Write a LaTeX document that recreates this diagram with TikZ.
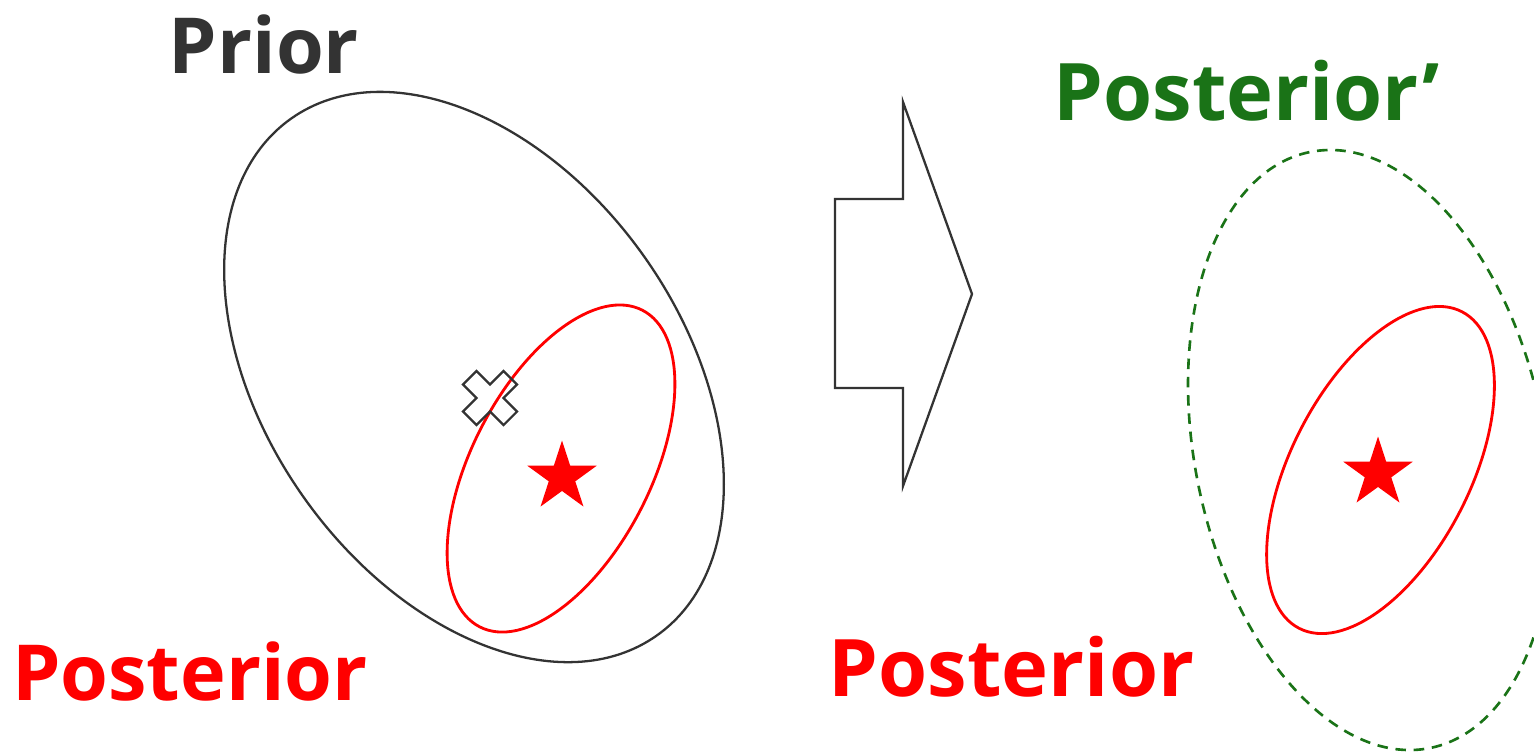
\documentclass[tikz,border=0pt]{standalone}
\usepackage{fontspec}
\setmainfont{Open Sans}
\usepackage{xcolor}
\usetikzlibrary{shapes.geometric, positioning}

\definecolor{priorgray}{HTML}{333333}
\definecolor{postgreen}{HTML}{1A7317}
\definecolor{postred}{HTML}{FF0000}

\begin{document}
\begin{tikzpicture}[
    title/.style={font=\bfseries\fontsize{22}{26}\selectfont, inner sep=0pt, anchor=base},
    bigtitle/.style={title, font=\bfseries\fontsize{22.6}{26}\selectfont},
    prior/.style={draw=priorgray, line width=0.65pt},
    post/.style={draw=postred, line width=0.8pt},
    postnew/.style={draw=postgreen, line width=0.75pt, dash pattern=on 3pt off 2.2pt},
    truth/.style={star, star points=5, star point ratio=2.618, fill=postred, inner sep=0pt, minimum size=0.73cm}
]
\useasboundingbox (0,0) rectangle (15.34,7.52);
\clip (0,0) rectangle (15.34,7.52);

% LEFT: PRIOR AND POSTERIOR
\node[title, text=priorgray] (prior) at (2.64,6.79) {Prior};
\draw[prior] (4.74,3.75) ellipse [x radius=2.085cm, y radius=3.166cm, rotate=35.3];
\draw[post] (5.61,2.835) ellipse [x radius=1.78cm, y radius=0.896cm, rotate=62.8];
\node[truth] (starL) at (5.62,2.75) {};
\node[title, text=postred] (postL) at (1.90,0.513) {Posterior};

% prior mean
\draw[prior, line join=miter, shift={(4.90,3.54)}, rotate=45]
    (0.095,0.095) -- (0.287,0.095) -- (0.287,-0.095) -- (0.095,-0.095)
    -- (0.095,-0.287) -- (-0.095,-0.287) -- (-0.095,-0.095) -- (-0.287,-0.095)
    -- (-0.287,0.095) -- (-0.095,0.095) -- (-0.095,0.287) -- (0.095,0.287) -- cycle;

% BLOCK ARROW
\draw[prior, line join=miter] (8.35,5.53) -- (9.03,5.53) -- (9.03,6.50) -- (9.72,4.58)
    -- (9.03,2.66) -- (9.03,3.64) -- (8.35,3.64) -- cycle;

% RIGHT: NEW POSTERIOR
\node[bigtitle, text=postgreen] (postN) at (12.465,6.32) {Posterior’};
\draw[postnew] (13.70,3.02) ellipse [x radius=1.752cm, y radius=3.04cm, rotate=11.4];
\draw[post] (13.805,2.82) ellipse [x radius=1.78cm, y radius=0.896cm, rotate=62.8];
\node[truth] (starR) at (13.78,2.79) {};
\node[bigtitle, text=postred] (postR) at (10.115,0.553) {Posterior};

\end{tikzpicture}
\end{document}
